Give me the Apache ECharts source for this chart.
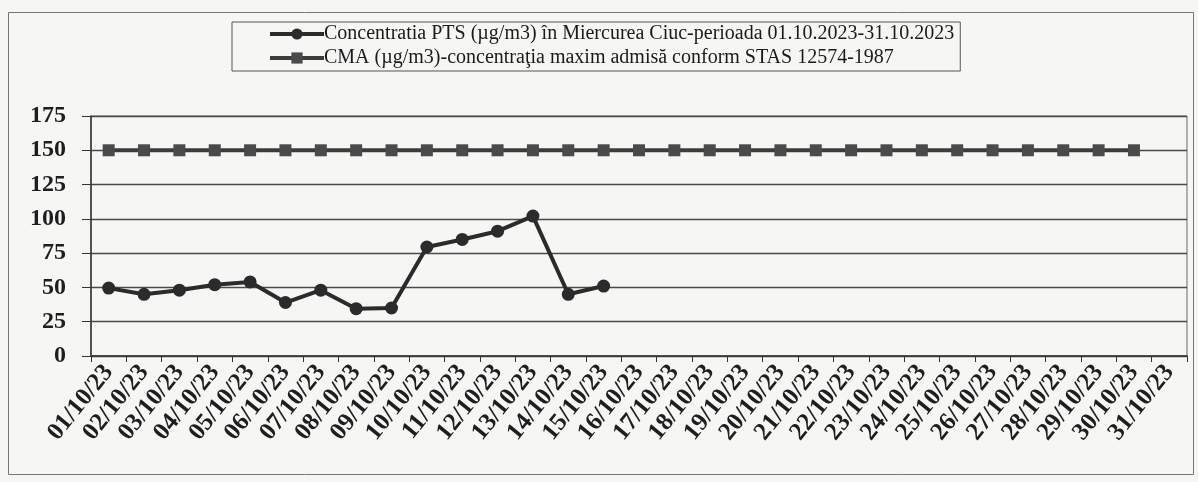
<!DOCTYPE html>
<html>
<head>
<meta charset="utf-8">
<script src="https://cdn.jsdelivr.net/npm/echarts@6/dist/echarts.min.js"></script>
<style>
html,body{margin:0;padding:0;background:#f6f6f5;}
#c{width:1198px;height:482px;}
</style>
</head>
<body>
<div id="c"></div>
<script>
const categories = ['01/10/23','02/10/23','03/10/23','04/10/23','05/10/23','06/10/23','07/10/23','08/10/23','09/10/23','10/10/23','11/10/23','12/10/23','13/10/23','14/10/23','15/10/23','16/10/23','17/10/23','18/10/23','19/10/23','20/10/23','21/10/23','22/10/23','23/10/23','24/10/23','25/10/23','26/10/23','27/10/23','28/10/23','29/10/23','30/10/23','31/10/23'];
const ptsValues = [49.5, 45, 48, 52, 54, 39, 48, 34.5, 35, 79.5, 85, 91, 102, 45, 51];
const cmaValues = [150,150,150,150,150,150,150,150,150,150,150,150,150,150,150,150,150,150,150,150,150,150,150,150,150,150,150,150,150,150,null];
const yTicks = {min: 0, max: 175, interval: 25};
const seriesNames = ['Concentratia PTS (µg/m3) în Miercurea Ciuc-perioada 01.10.2023-31.10.2023', 'CMA (µg/m3)-concentraţia maxim admisă conform STAS 12574-1987'];

const serif = '"Liberation Serif", "DejaVu Serif", serif';
const chart = echarts.init(document.getElementById('c'));
chart.setOption({
  animation: false,
  backgroundColor: '#f6f6f5',
  grid: {left: 91, right: 11, top: 116, bottom: 126, outerBoundsMode: 'none', show: true, borderColor: '#6a6a6a', borderWidth: 1, backgroundColor: 'transparent'},
  legend: {
    orient: 'vertical', left: 232, top: 22,
    padding: [2, 6, 3, 36],
    itemGap: 4, itemWidth: 54, itemHeight: 14,
    borderColor: '#555', borderWidth: 1,
    lineStyle: {width: 4},
    textStyle: {fontFamily: serif, fontSize: 20, color: '#1a1a1a', padding: [0,0,0,-5]},
    data: seriesNames
  },
  xAxis: {
    type: 'category', data: categories, boundaryGap: true,
    axisLine: {lineStyle: {color: '#333', width: 1.5}},
    axisTick: {show: true, inside: false, length: 6, alignWithLabel: false, lineStyle: {color: '#333'}},
    axisLabel: {interval: 0, rotate: 51, margin: 12, fontFamily: serif, fontWeight: 'bold', fontSize: 25, color: '#1e1e1e'}
  },
  yAxis: {
    type: 'value', min: yTicks.min, max: yTicks.max, interval: yTicks.interval,
    axisLine: {show: true, lineStyle: {color: '#333', width: 1.5}},
    axisTick: {show: true, length: 9, lineStyle: {color: '#333'}},
    axisLabel: {margin: 25, fontFamily: serif, fontWeight: 'bold', fontSize: 24, color: '#1e1e1e'},
    splitLine: {lineStyle: {color: '#4a4a4a', width: 1.3}}
  },
  series: [
    {name: seriesNames[0], type: 'line', data: ptsValues, symbol: 'circle', symbolSize: 13,
     lineStyle: {color: '#2b2b2b', width: 4}, itemStyle: {color: '#2b2b2b'}, z: 3},
    {name: seriesNames[1], type: 'line', data: cmaValues, symbol: 'rect', symbolSize: 12,
     lineStyle: {color: '#3c3c3c', width: 4}, itemStyle: {color: '#4a4a4a'}, z: 2}
  ],
  graphic: [
    {type: 'rect', shape: {x: 8.5, y: 12.5, width: 1185, height: 462}, style: {fill: 'none', stroke: '#777', lineWidth: 1}, silent: true}
  ]
});
</script>
</body>
</html>
